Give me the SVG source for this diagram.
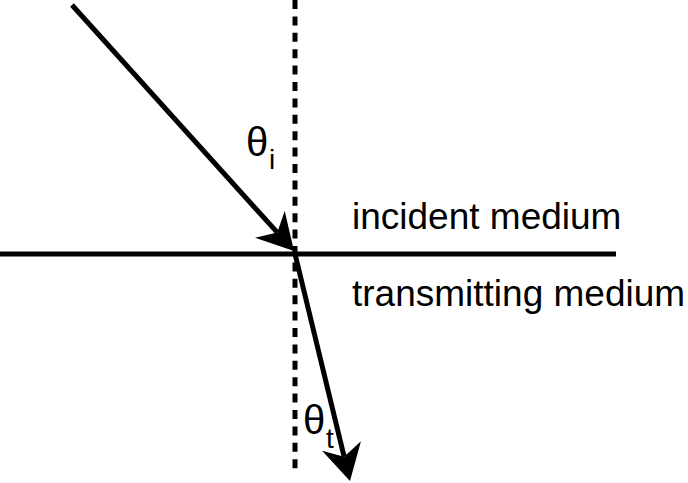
<svg xmlns="http://www.w3.org/2000/svg" width="688" height="483" viewBox="0 0 688 483">
<style>
.ln{stroke:#000;stroke-width:5;fill:none}
.dot{stroke:#000;stroke-width:5;fill:none;stroke-dasharray:9 7.4}
.t{font-family:"Liberation Sans",Helvetica,Arial,sans-serif;fill:#000}
.big{font-size:37px}
.sym{font-size:40px}
.sub{font-size:28px}
</style>
<defs>
<marker id="arr" markerUnits="userSpaceOnUse" markerWidth="80" markerHeight="80" refX="0" refY="0" orient="auto" overflow="visible">
<path d="M25,0 L-11,-20 L0,0 L-11,20 Z" fill="#000"/>
</marker>
</defs>
<rect width="688" height="483" fill="#fff"/>
<g id="normal">
<line class="dot" x1="295" y1="0" x2="295" y2="470"/>
</g>
<g id="interface">
<line class="ln" x1="0" y1="254" x2="616" y2="254"/>
</g>
<g id="connectors">
<line id="incident-ray" class="ln" x1="72" y1="5" x2="277.25" y2="232.45" marker-end="url(#arr)"/>
<line id="transmitted-ray" class="ln" x1="295" y1="254" x2="344.1" y2="456.7" marker-end="url(#arr)"/>
</g>
<g id="label-incident">
<text class="t big" x="352" y="229">incident medium</text>
</g>
<g id="label-transmitting">
<text class="t big" x="352" y="306">transmitting medium</text>
</g>
<g id="theta-i">
<text class="t sym" x="246" y="156">θ</text>
<text class="t sub" x="269" y="169">i</text>
</g>
<g id="theta-t">
<text class="t sym" x="303" y="434">θ</text>
<text class="t sub" x="326" y="448">t</text>
</g>
</svg>
